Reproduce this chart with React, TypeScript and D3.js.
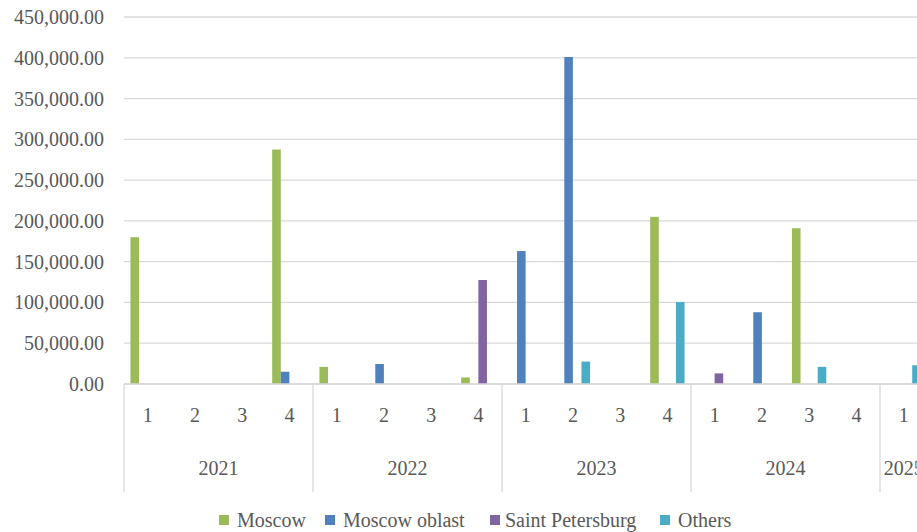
import React from "react";
import * as d3 from "d3";

const years = ["2021", "2022", "2023", "2024", "2025"];
const quarterCounts = [4, 4, 4, 4, 1];
const seriesNames = ["Moscow", "Moscow oblast", "Saint Petersburg", "Others"];
const seriesColors = ["#9BBB59", "#4F81BD", "#8064A2", "#4BACC6"];

const moscow = [180000, 0, 0, 287500, 21000, 0, 0, 8000, 0, 0, 0, 205000, 0, 0, 191000, 0, 0];
const moscowOblast = [0, 0, 0, 15000, 0, 24500, 0, 0, 163000, 401000, 0, 0, 0, 88000, 0, 0, 0];
const saintPetersburg = [0, 0, 0, 0, 0, 0, 0, 127500, 0, 0, 0, 0, 13000, 0, 0, 0, 0];
const others = [0, 0, 0, 0, 0, 0, 0, 0, 0, 27500, 0, 100500, 0, 0, 21000, 0, 23000];

const yTicks = [0, 50000, 100000, 150000, 200000, 250000, 300000, 350000, 400000, 450000];

const W = 917;
const H = 532;
const FONT = "Liberation Serif, Times New Roman, DejaVu Serif, serif";
const TEXT = "#595959";
const GRID = "#d9d9d9";

export default function App() {
  const seriesData = [moscow, moscowOblast, saintPetersburg, others];
  const cats: { key: string; year: string; q: string }[] = [];
  years.forEach((y, i) => {
    for (let q = 1; q <= quarterCounts[i]; q++) cats.push({ key: `${y}-${q}`, year: y, q: String(q) });
  });

  const left = 124;
  const plotTop = 17;
  const plotBottom = 384;
  const catWidth = 47.25;
  const right = left + cats.length * catWidth;

  const x0 = d3.scaleBand<string>().domain(cats.map((c) => c.key)).range([left, right]).padding(0);
  const x1 = d3
    .scaleBand<string>()
    .domain(seriesNames)
    .range([0, x0.bandwidth()])
    .paddingInner(0)
    .paddingOuter(0.75);
  const y = d3.scaleLinear().domain([0, 450000]).range([plotBottom, plotTop]);
  const fmt = d3.format(",.2f");

  const yearBounds: { year: string; x0: number; x1: number }[] = [];
  let idx = 0;
  years.forEach((yr, i) => {
    const start = x0(cats[idx].key)!;
    idx += quarterCounts[i];
    const end = start + quarterCounts[i] * x0.step();
    yearBounds.push({ year: yr, x0: start, x1: end });
  });

  const legendItems = [
    { sx: 219, tx: 237 },
    { sx: 325, tx: 343 },
    { sx: 490, tx: 505 },
    { sx: 660, tx: 678 },
  ];

  const ts: React.CSSProperties = { fontFamily: FONT };

  return (
    <svg
      width={W}
      height={H}
      style={{ position: "absolute", left: 0, top: 0, background: "#fff" }}
    >
      <rect x={0} y={0} width={W} height={H} fill="#fff" />
      {yTicks.map((t) => (
        <line key={t} x1={left} x2={right} y1={y(t)} y2={y(t)} stroke={GRID} strokeWidth={1.3} />
      ))}
      {yTicks.map((t) => (
        <text key={"l" + t} x={104} y={y(t)} dy="0.35em" textAnchor="end" fontSize={20} fill={TEXT} style={ts}>
          {fmt(t)}
        </text>
      ))}
      {seriesData.map((arr, si) =>
        arr.map((v, ci) =>
          v > 0 ? (
            <rect
              key={`${si}-${ci}`}
              x={x0(cats[ci].key)! + x1(seriesNames[si])!}
              y={y(v)}
              width={x1.bandwidth()}
              height={y(0) - y(v)}
              fill={seriesColors[si]}
            />
          ) : null
        )
      )}
      <line x1={left} x2={right} y1={plotBottom} y2={plotBottom} stroke={GRID} strokeWidth={1.3} />
      {yearBounds.map((b) => (
        <line key={"v" + b.year} x1={b.x0} x2={b.x0} y1={plotBottom} y2={492} stroke={GRID} strokeWidth={1.3} />
      ))}
      <line x1={right} x2={right} y1={plotBottom} y2={492} stroke={GRID} strokeWidth={1.3} />
      {cats.map((c) => (
        <text
          key={"q" + c.key}
          x={x0(c.key)! + x0.bandwidth() / 2}
          y={415}
          dy="0.35em"
          textAnchor="middle"
          fontSize={20}
          fill={TEXT}
          style={ts}
        >
          {c.q}
        </text>
      ))}
      {yearBounds.map((b) => (
        <text
          key={"y" + b.year}
          x={(b.x0 + b.x1) / 2}
          y={468}
          dy="0.35em"
          textAnchor="middle"
          fontSize={20}
          fill={TEXT}
          style={ts}
        >
          {b.year}
        </text>
      ))}
      {seriesNames.map((n, i) => (
        <g key={"lg" + n}>
          <rect x={legendItems[i].sx} y={515} width={10} height={10} fill={seriesColors[i]} />
          <text x={legendItems[i].tx} y={520} dy="0.35em" fontSize={20} fill={TEXT} style={ts}>
            {n}
          </text>
        </g>
      ))}
    </svg>
  );
}
